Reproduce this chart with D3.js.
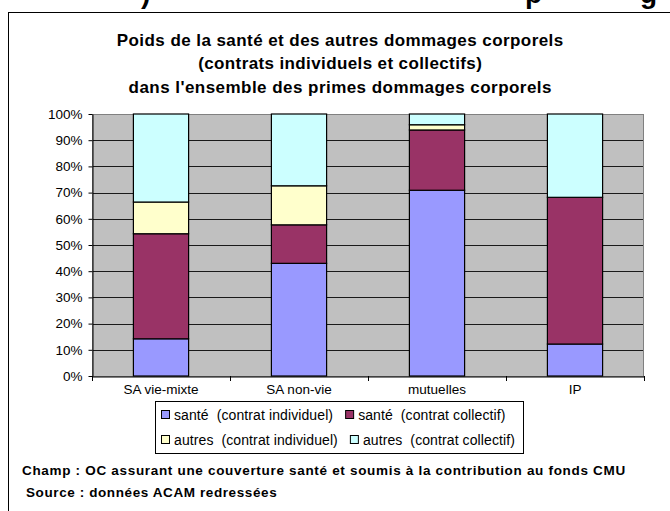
<!DOCTYPE html>
<html><head><meta charset="utf-8">
<script src="https://cdn.jsdelivr.net/npm/d3@7"></script>
<style>body{margin:0;background:#fff}svg{display:block}text{font-family:"Liberation Sans",Arial,sans-serif;white-space:pre}</style>
</head><body>
<svg id="c" width="670" height="511"></svg>
<script>
const categories = ["SA vie-mixte","SA non-vie","mutuelles","IP"];
const seriesNames = ["santé  (contrat individuel)","santé  (contrat collectif)","autres  (contrat individuel)","autres  (contrat collectif)"];
const santeIndiv = [14.2, 43.0, 70.9, 12.2];
const santeCollec = [40.1, 14.7, 23.0, 56.0];
const autresIndiv = [12.1, 14.9, 2.0, 0.0];
const autresCollec = [33.6, 27.4, 4.1, 31.8];
const colors = ["#9999FF","#993366","#FFFFCC","#CCFFFF"];
const yTicks = [0,10,20,30,40,50,60,70,80,90,100];
const titleLines = ["Poids de la santé et des autres dommages corporels","(contrats individuels et collectifs)","dans l'ensemble des primes dommages corporels"];
const notes = ["Champ : OC assurant une couverture santé et soumis à la contribution au fonds CMU","Source : données ACAM redressées"];

const svg = d3.select("#c");
// partially visible page title above the frame (cut in the original too)
svg.append("g").attr("font-weight","bold").attr("font-size",28)
  .selectAll("text").data([[141,")"],[525,"p"],[640,"g"]]).join("text")
  .attr("x",d=>d[0]).attr("y",3).text(d=>d[1]);
// frame
svg.append("rect").attr("x",8.5).attr("y",12.5).attr("width",700).attr("height",520)
  .attr("fill","#fff").attr("stroke","#000").attr("stroke-width",1);

const tg = svg.append("g").attr("font-weight","bold").attr("font-size",17).attr("text-anchor","middle");
titleLines.forEach((t,i)=>{
  const el = tg.append("text").attr("x",340).attr("y",45.5+i*23.5).text(t);
  const w = el.node().getComputedTextLength();
  el.attr("textLength",w*1.05).attr("lengthAdjust","spacing");
});

const L=92,R=644,T=114,B=376;
const x = d3.scaleBand().domain(categories).range([L,R]).paddingInner(0.6).paddingOuter(0.3);
const xb = d3.scaleBand().domain(categories).range([L,R]);
const y = d3.scaleLinear().domain([0,100]).range([B,T]);

svg.append("rect").attr("x",L).attr("y",T).attr("width",R-L).attr("height",B-T).attr("fill","#C0C0C0");
svg.append("g").selectAll("line").data(yTicks.slice(1)).join("line")
  .attr("x1",L).attr("x2",R).attr("y1",d=>Math.round(y(d))+0.5).attr("y2",d=>Math.round(y(d))+0.5)
  .attr("stroke","#1a1a1a").attr("stroke-width",1);
svg.append("rect").attr("x",L+0.5).attr("y",T+0.5).attr("width",R-L-1).attr("height",B-T)
  .attr("fill","none").attr("stroke","#808080");

const rows = categories.map((c,i)=>({cat:c,s0:santeIndiv[i],s1:santeCollec[i],s2:autresIndiv[i],s3:autresCollec[i]}));
const stack = d3.stack().keys(["s0","s1","s2","s3"])(rows);
stack.forEach((layer,k)=>{
  svg.append("g").selectAll("rect").data(layer.filter(d=>d[1]-d[0]>0)).join("rect")
    .attr("x",d=>x(d.data.cat)).attr("width",x.bandwidth())
    .attr("y",d=>y(d[1])).attr("height",d=>y(d[0])-y(d[1]))
    .attr("fill",colors[k]).attr("stroke","#000").attr("stroke-width",1.2);
});

// y axis
const ya = svg.append("g").attr("transform",`translate(${L+0.5},0)`)
  .call(d3.axisLeft(y).tickValues(yTicks).tickFormat(d=>d+"%").tickSize(4).tickSizeOuter(0));
ya.select(".domain").attr("stroke","#000");
ya.selectAll("text").attr("font-size",13.5).attr("font-family","Liberation Sans, Arial").attr("fill","#000").attr("dx","-3");
// x axis
const xa = svg.append("g").attr("transform",`translate(0,${B+0.5})`)
  .call(d3.axisBottom(xb).tickSize(0).tickSizeOuter(0));
xa.select(".domain").attr("stroke","#000");
xa.selectAll("text").attr("font-size",13.5).attr("font-family","Liberation Sans, Arial").attr("fill","#000").attr("dy","1.1em");
svg.append("g").selectAll("line").data(categories.concat([null])).join("line")
  .attr("x1",(d,i)=>Math.round(L+i*xb.step())+0.5).attr("x2",(d,i)=>Math.round(L+i*xb.step())+0.5)
  .attr("y1",B).attr("y2",B+5).attr("stroke","#000");

// legend (entries flow along each row)
const lg = svg.append("g");
lg.append("rect").attr("x",155.5).attr("y",401.5).attr("width",368).attr("height",52).attr("fill","#fff").attr("stroke","#000");
const rowY = [415,440];
[[0,1],[2,3]].forEach((pair,r)=>{
  let cx = 161;
  pair.forEach(i=>{
    lg.append("rect").attr("x",cx+0.5).attr("y",rowY[r]-4.5).attr("width",8).attr("height",8)
      .attr("fill",colors[i]).attr("stroke","#000");
    const t = lg.append("text").attr("x",cx+13).attr("y",rowY[r]+5).attr("font-size",14)
      .attr("letter-spacing",0.1).text(seriesNames[i]);
    cx = cx + 13 + t.node().getComputedTextLength() + 12;
  });
});

const ng = svg.append("g").attr("font-weight","bold").attr("font-size",13.5);
const n1 = ng.append("text").attr("x",22).attr("y",475).text(notes[0]);
n1.attr("textLength",Math.min(606, n1.node().getComputedTextLength()*1.1)).attr("lengthAdjust","spacing");
const n2 = ng.append("text").attr("x",26).attr("y",497).text(notes[1]);
n2.attr("textLength",n2.node().getComputedTextLength()*1.08).attr("lengthAdjust","spacing");
</script>
</body></html>
